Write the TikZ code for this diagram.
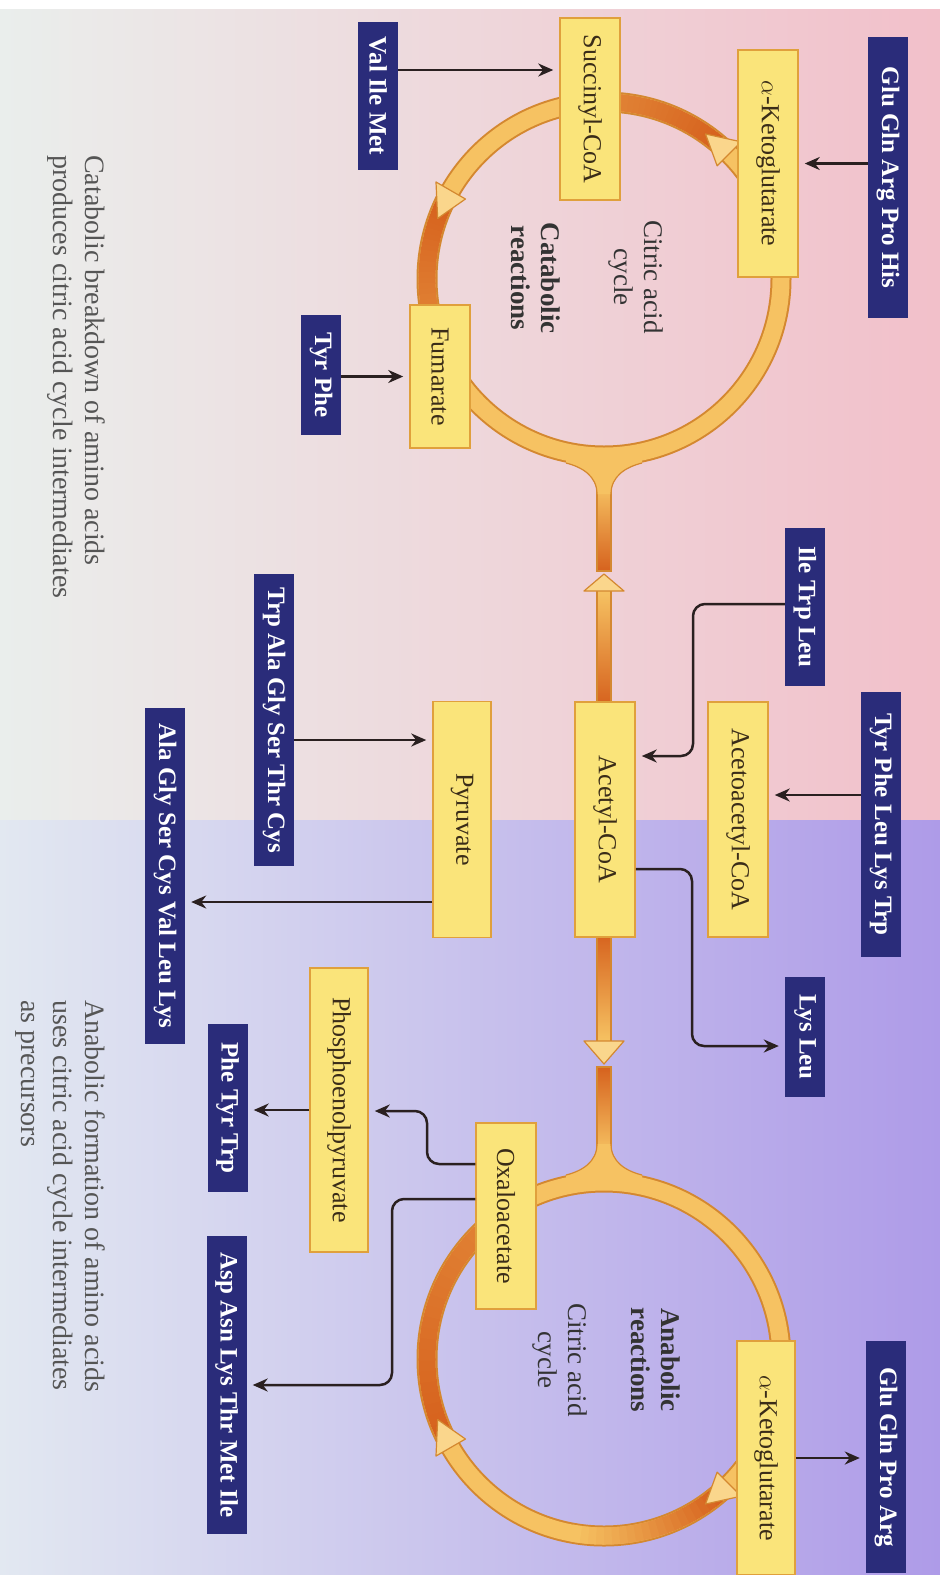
\documentclass[tikz,border=0pt]{standalone}
\usepackage{fontspec}
\setmainfont{Liberation Serif}
\usetikzlibrary{arrows.meta}

\definecolor{pinkbg}{RGB}{242,192,202}
\definecolor{pinkfade}{RGB}{234,238,236}
\definecolor{lilacbg}{RGB}{174,155,232}
\definecolor{lilacfade}{RGB}{226,232,241}
\definecolor{ringlight}{RGB}{246,194,98}
\definecolor{ringdark}{RGB}{214,98,30}
\definecolor{ringedge}{RGB}{212,136,48}
\definecolor{headfill}{RGB}{250,214,140}
\definecolor{boxfill}{RGB}{250,228,122}
\definecolor{boxedge}{RGB}{224,160,60}
\definecolor{boxtext}{RGB}{58,44,24}
\definecolor{aablue}{RGB}{42,44,122}
\definecolor{arrowcol}{RGB}{42,32,32}
\definecolor{captext}{RGB}{85,85,85}

% darker stretch of a ring: centre, from, to, last mix
\newcommand{\darkarc}[4]{%
  \foreach \i in {0,...,19}{
    \pgfmathsetmacro{\sa}{#2+(#3-#2)*\i/20}
    \pgfmathsetmacro{\ea}{#2+(#3-#2)*(\i+1.2)/20}
    \pgfmathsetmacro{\mx}{100-(100-#4)*\i/19}
    \draw[draw=ringdark!\mx!ringlight, line width=17pt]
      (#1) ++(\sa:177) arc[start angle=\sa, end angle=\ea, radius=177];
  }}
% hollow head on a ring: centre, base, tip
\newcommand{\ringhead}[3]{%
  \filldraw[hollowhead] ([shift={(#2:194)}]#1) -- ([shift={(#3:177)}]#1)
    -- ([shift={(#2:160)}]#1) -- cycle;}

\begin{document}
\begin{tikzpicture}[x=1pt, y=-1pt,
  yellowbox/.style={rotate=-90, draw=boxedge, fill=boxfill, line width=1.5pt,
    minimum height=60pt, inner sep=0pt, text=boxtext,
    font=\fontsize{26}{30}\selectfont},
  bluebox/.style={rotate=-90, fill=aablue, minimum height=40pt, inner sep=0pt,
    text=white, font=\fontsize{25}{30}\selectfont\bfseries},
  feed/.style={-{Stealth[length=15pt,width=13pt]}, line width=2.5pt,
    draw=arrowcol, shorten >=6pt},
  cyclelabel/.style={rotate=-90, align=center, inner sep=0pt, text=black!80,
    font=\fontsize{27}{30}\selectfont},
  notetext/.style={rotate=-90, align=left, inner sep=0pt, text=captext,
    font=\fontsize{28}{32}\selectfont},
  hollowhead/.style={fill=headfill, draw=ringedge, line width=1.2pt, line join=round},
  stemedge/.style={draw=ringedge, line width=1.2pt}]

  \useasboundingbox (0,0) rectangle (940,1575);

  % Background
  \fill[white] (0,0) rectangle (940,1575);
  \shade[left color=pinkfade, right color=pinkbg] (0,9) rectangle (940,820);
  \shade[left color=lilacfade, right color=lilacbg] (0,820) rectangle (940,1575);

  \coordinate (catc) at (604,279);
  \coordinate (anac) at (604,1359);

  % Ring outlines
  \foreach \c in {catc,anac}
    \draw[ringedge, line width=21pt] (\c) circle[radius=177];

  % Stems
  \shade[top color=ringlight, bottom color=ringdark] (597,485) rectangle (611,571);
  \draw[stemedge] (597,485) -- (597,571) -- (611,571) -- (611,485);
  \shade[top color=ringlight, bottom color=ringdark] (597,591) rectangle (611,705);
  \draw[stemedge] (597,591) -- (597,705) (611,591) -- (611,705);
  \shade[top color=ringdark, bottom color=ringlight] (597,933) rectangle (611,1041);
  \draw[stemedge] (597,933) -- (597,1041) (611,933) -- (611,1041);
  \shade[top color=ringdark, bottom color=ringlight] (597,1067) rectangle (611,1153);
  \draw[stemedge] (597,1153) -- (597,1067) -- (611,1067) -- (611,1153);

  % Junctions
  \fill[ringlight] (597,494) .. controls (597,476) and (582,467) .. (566,463)
    -- (566,452) -- (642,452) -- (642,463) .. controls (626,467) and (611,476) .. (611,494) -- cycle;
  \draw[stemedge] (597,494) .. controls (597,476) and (582,467) .. (566,463);
  \draw[stemedge] (611,494) .. controls (611,476) and (626,467) .. (642,463);
  \fill[ringlight] (597,1144) .. controls (597,1162) and (582,1171) .. (566,1175)
    -- (566,1186) -- (642,1186) -- (642,1175) .. controls (626,1171) and (611,1162) .. (611,1144) -- cycle;
  \draw[stemedge] (597,1144) .. controls (597,1162) and (582,1171) .. (566,1175);
  \draw[stemedge] (611,1144) .. controls (611,1162) and (626,1171) .. (642,1175);

  % Ring fill
  \foreach \c in {catc,anac}
    \draw[ringlight, line width=17pt] (\c) circle[radius=177];

  % Darker stretches
  \darkarc{catc}{-50}{-88}{65}
  \darkarc{catc}{-155}{-190}{70}
  \darkarc{anac}{50}{100}{0}
  \darkarc{anac}{-205}{-135}{70}

  % Hollow heads
  \ringhead{catc}{-45}{-55}
  \ringhead{catc}{-150}{-160}
  \ringhead{anac}{45}{55}
  \ringhead{anac}{-210}{-200}
  \filldraw[hollowhead] (584,591) -- (604,574) -- (624,591) -- cycle;
  \filldraw[hollowhead] (584,1041) -- (604,1064) -- (624,1041) -- cycle;

  % Intermediates
  \node[yellowbox, minimum width=227pt] (akgcat) at (768,163.5) {$\alpha$-Ketoglutarate};
  \node[yellowbox, minimum width=182pt] (succ) at (590,109) {Succinyl-CoA};
  \node[yellowbox, minimum width=143pt] (fum) at (440,376.5) {Fumarate};
  \node[yellowbox, minimum width=235pt] (acac) at (738,819.5) {Acetoacetyl-CoA};
  \node[yellowbox, minimum width=235pt] (acetyl) at (605,819.5) {Acetyl-CoA};
  \node[yellowbox, minimum width=236pt, minimum height=58pt] (pyr) at (462,819.5) {Pyruvate};
  \node[yellowbox, minimum width=284pt, minimum height=58pt] (pep) at (339,1110) {Phosphoenolpyruvate};
  \node[yellowbox, minimum width=186pt] (oaa) at (506,1216) {Oxaloacetate};
  \node[yellowbox, minimum width=234pt, minimum height=58pt] (akgana) at (766,1458) {$\alpha$-Ketoglutarate};

  % Amino acids
  \node[bluebox, minimum width=281pt] (glucat) at (888,177.5) {Glu Gln Arg Pro His};
  \node[bluebox, minimum width=148pt] (vim) at (378,96) {Val Ile Met};
  \node[bluebox, minimum width=120pt] (tyrphe) at (321,375) {Tyr Phe};
  \node[bluebox, minimum width=158pt] (itl) at (805,607) {Ile Trp Leu};
  \node[bluebox, minimum width=265pt] (tplt) at (881,824.5) {Tyr Phe Leu Lys Trp};
  \node[bluebox, minimum width=292pt] (tagstc) at (274,720) {Trp Ala Gly Ser Thr Cys};
  \node[bluebox, minimum width=336pt] (agscvll) at (165,876) {Ala Gly Ser Cys Val Leu Lys};
  \node[bluebox, minimum width=120pt] (lysleu) at (805,1037) {Lys Leu};
  \node[bluebox, minimum width=168pt] (pttr) at (227.5,1108) {Phe Tyr Trp};
  \node[bluebox, minimum width=298pt] (aaltmi) at (226.5,1385) {Asp Asn Lys Thr Met Ile};
  \node[bluebox, minimum width=232pt] (gluana) at (886,1457) {Glu Gln Pro Arg};

  % Cycle labels
  \node[cyclelabel] (citcat) at (636,277) {Citric acid\\cycle};
  \node[cyclelabel, font=\fontsize{27}{30}\selectfont\bfseries] (reaccat) at (536,278) {Catabolic\\reactions};
  \node[cyclelabel, font=\fontsize{27}{30}\selectfont\bfseries] (reacana) at (656,1360) {Anabolic\\reactions};
  \node[cyclelabel] (citana) at (560,1360) {Citric acid\\cycle};

  % Captions
  \node[notetext, anchor=north west] (capcat) at (105,155)
    {Catabolic breakdown of amino acids\\produces citric acid cycle intermediates};
  \node[notetext, anchor=north west] (capana) at (105,1000)
    {Anabolic formation of amino acids\\uses citric acid cycle intermediates\\as precursors};

  % Catabolic feeds
  \draw[feed] (glucat.south |- akgcat) -- (akgcat.north);
  \coordinate (vimout) at ([yshift=26pt]vim.north);
  \draw[feed] (vimout) -- (vimout -| succ.south);
  \draw[feed] (tyrphe.north |- fum.south) -- (fum.south);

  % Acetyl-CoA and pyruvate
  \coordinate (ilebend) at (693,756);
  \draw[feed, rounded corners=12pt] ([yshift=3pt]itl.south) -| (ilebend) -- (ilebend -| acetyl.north);
  \coordinate (tpltout) at ([yshift=29.5pt]tplt.south);
  \draw[feed] (tpltout) -- (tpltout -| acac.north);
  \coordinate (acout) at ([yshift=-49.5pt]acetyl.north);
  \coordinate (lysbend) at (692,1046);
  \draw[feed, rounded corners=12pt] (acout) -| (lysbend) -- (lysbend -| lysleu.south);
  \coordinate (trpout) at ([yshift=-20pt]tagstc.north);
  \draw[feed] (trpout) -- (trpout -| pyr.south);
  \coordinate (pyrout) at ([yshift=-82.5pt]pyr.south);
  \draw[feed] (pyrout) -- (pyrout -| agscvll.north);

  % Anabolic outputs
  \coordinate (oaaup) at ([yshift=52pt]oaa.south);
  \coordinate (pepbend) at (427,1111);
  \draw[feed, rounded corners=12pt] (oaaup) -| (pepbend) -- (pepbend -| pep.north);
  \draw[feed] (pep.south) -- (pep.south -| pttr.north);
  \coordinate (oaadown) at ([yshift=17pt]oaa.south);
  \coordinate (aspbend) at (392,1385);
  \draw[feed, rounded corners=12pt] (oaadown) -| (aspbend) -- (aspbend -| aaltmi.north);
  \draw[feed] (akgana.north) -- (akgana.north -| gluana.south);

\end{tikzpicture}
\end{document}
